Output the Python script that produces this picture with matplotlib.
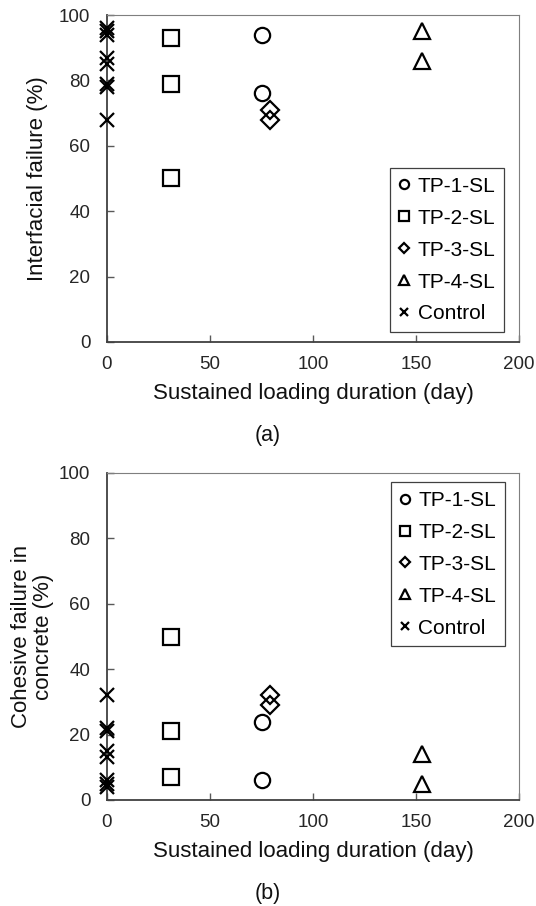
import matplotlib
matplotlib.use("Agg")
import matplotlib.pyplot as plt

plt.rcParams['font.family'] = ['Liberation Sans', 'DejaVu Sans']

# sustained loading duration (day)
tp1_days = [75, 75]
tp2_days = [31, 31, 31]
tp3_days = [79, 79]
tp4_days = [153, 153]
control_days = [0, 0, 0, 0, 0, 0, 0, 0]

# (a) interfacial failure (%)
tp1_interfacial = [94, 76]
tp2_interfacial = [93, 79, 50]
tp3_interfacial = [71, 68]
tp4_interfacial = [95, 86]
control_interfacial = [96, 95, 94, 87, 85, 79, 78, 68]

# (b) cohesive failure in concrete (%)
tp1_cohesive = [6, 24]
tp2_cohesive = [7, 21, 50]
tp3_cohesive = [29, 32]
tp4_cohesive = [5, 14]
control_cohesive = [4, 5, 6, 13, 15, 21, 22, 32]

labels = ['TP-1-SL', 'TP-2-SL', 'TP-3-SL', 'TP-4-SL', 'Control']
markers = ['o', 's', 'D', '^', 'x']
msizes = [11, 11, 9, 11, 10]

fig = plt.figure(figsize=(5.36, 9.06), dpi=100)
W, H = 536, 906
ax1 = fig.add_axes([107 / W, 1 - 342 / H, (519 - 107) / W, (342 - 15) / H])
ax2 = fig.add_axes([107 / W, 1 - 800 / H, (519 - 107) / W, (800 - 473) / H])


def draw(ax, series, ylabel, ylab_x, leg_anchor):
    days = [tp1_days, tp2_days, tp3_days, tp4_days, control_days]
    for d, v, lab, m, ms in zip(days, series, labels, markers, msizes):
        ax.plot(d, v, linestyle='none', marker=m, markersize=ms,
                markerfacecolor='none', markeredgecolor='black',
                markeredgewidth=1.6, color='black', label=lab, clip_on=False,
                zorder=3)
    ax.set_xlim(0, 200)
    ax.set_ylim(0, 100)
    ax.set_xticks([0, 50, 100, 150, 200])
    ax.set_yticks([0, 20, 40, 60, 80, 100])
    ax.tick_params(direction='in', length=5, width=1, labelsize=13.5,
                   colors='#595959', labelcolor='#262626')
    ax.tick_params(axis='x', pad=10)
    ax.tick_params(axis='y', pad=12)
    for side in ['top', 'right']:
        ax.spines[side].set_color('#7f7f7f')
        ax.spines[side].set_linewidth(0.8)
    for side in ['left', 'bottom']:
        ax.spines[side].set_color('#404040')
        ax.spines[side].set_linewidth(1.3)
    ax.set_xlabel('Sustained loading duration (day)', fontsize=16, color='#111111',
                  va='center')
    ax.xaxis.set_label_coords(0.5, -0.157)
    ax.set_ylabel(ylabel, fontsize=16, color='#111111', va='center',
                  linespacing=1.05)
    ax.yaxis.set_label_coords(ylab_x, 0.5)
    leg = ax.legend(loc='upper left', bbox_to_anchor=leg_anchor, borderaxespad=0,
                    fontsize=15, markerscale=0.6, handlelength=0.5,
                    handletextpad=0.4, labelspacing=0.62, borderpad=0.42,
                    fancybox=False, framealpha=1, edgecolor='#404040')
    leg.get_frame().set_linewidth(0.9)


draw(ax1, [tp1_interfacial, tp2_interfacial, tp3_interfacial, tp4_interfacial,
           control_interfacial],
     'Interfacial failure (%)', -0.1675, (0.687, 0.532))
draw(ax2, [tp1_cohesive, tp2_cohesive, tp3_cohesive, tp4_cohesive,
           control_cohesive],
     'Cohesive failure in\nconcrete (%)', -0.18, (0.689, 0.972))

fig.text(0.5, 1 - 435 / H, '(a)', ha='center', va='center', fontsize=15.5, color='#111111')
fig.text(0.5, 1 - 893 / H, '(b)', ha='center', va='center', fontsize=15.5, color='#111111')

fig.savefig('out.png', dpi=100)
